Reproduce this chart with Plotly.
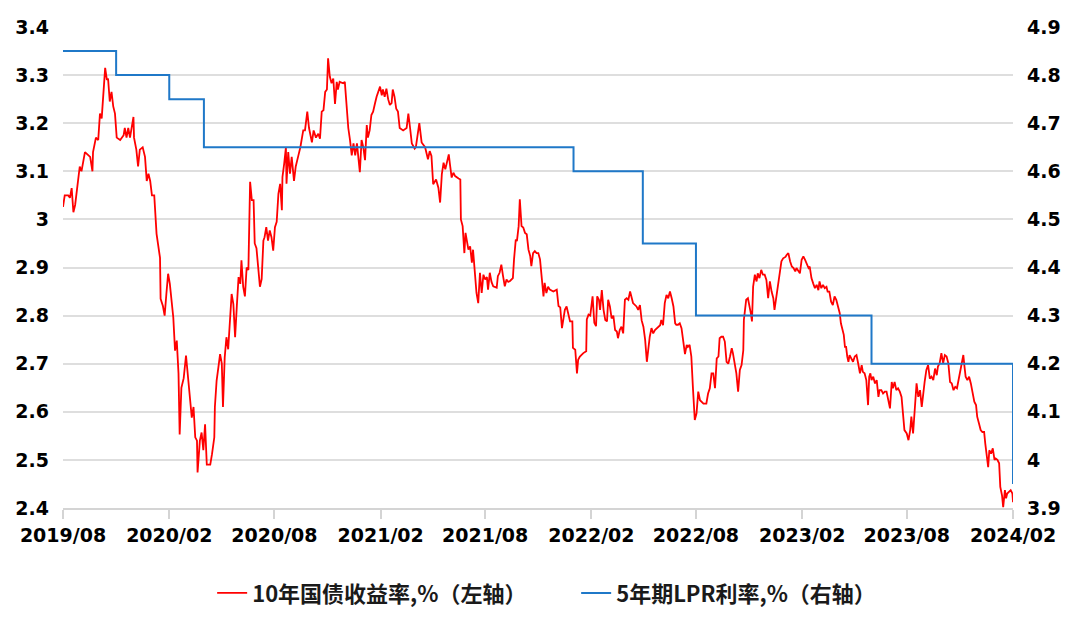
import plotly.graph_objects as go

# ---------------- data ----------------
yield_dates = [
"2019-08-01","2019-08-04","2019-08-10","2019-08-13","2019-08-16","2019-08-19","2019-08-22","2019-08-25","2019-08-30",
"2019-09-02","2019-09-08","2019-09-17","2019-09-21","2019-09-22","2019-09-27",
"2019-10-01","2019-10-04","2019-10-07","2019-10-10","2019-10-13","2019-10-16","2019-10-18","2019-10-21","2019-10-24","2019-10-27","2019-10-30",
"2019-11-02","2019-11-08","2019-11-14","2019-11-16","2019-11-19","2019-11-22","2019-11-25","2019-11-28",
"2019-12-01","2019-12-02","2019-12-06","2019-12-09","2019-12-12","2019-12-17","2019-12-21","2019-12-24","2019-12-27","2019-12-30",
"2020-01-02","2020-01-06","2020-01-08","2020-01-10","2020-01-16","2020-01-17","2020-01-21","2020-01-24","2020-01-27","2020-01-30",
"2020-02-02","2020-02-08","2020-02-11","2020-02-14","2020-02-17","2020-02-19","2020-02-22","2020-02-26",
"2020-03-01","2020-03-05","2020-03-08","2020-03-11","2020-03-14","2020-03-17","2020-03-20","2020-03-21","2020-03-25","2020-03-28","2020-03-31",
"2020-04-03","2020-04-06","2020-04-12","2020-04-15","2020-04-19","2020-04-20","2020-04-23","2020-04-26","2020-04-29",
"2020-05-02","2020-05-04","2020-05-07","2020-05-10","2020-05-13","2020-05-16","2020-05-19","2020-05-22","2020-05-25","2020-05-28","2020-05-31",
"2020-06-03","2020-06-05","2020-06-08","2020-06-11","2020-06-14","2020-06-17","2020-06-20","2020-06-23","2020-06-26","2020-06-28",
"2020-07-01","2020-07-04","2020-07-07","2020-07-10","2020-07-13","2020-07-15","2020-07-18","2020-07-21","2020-07-24","2020-07-27","2020-07-30",
"2020-08-02","2020-08-05","2020-08-08","2020-08-11","2020-08-14","2020-08-15","2020-08-18","2020-08-21","2020-08-22","2020-08-25","2020-08-28","2020-08-31",
"2020-09-04","2020-09-07","2020-09-11","2020-09-15","2020-09-20","2020-09-23","2020-09-27","2020-09-30",
"2020-10-05","2020-10-08","2020-10-12","2020-10-16","2020-10-19","2020-10-22","2020-10-25","2020-10-28","2020-10-31",
"2020-11-02","2020-11-05","2020-11-08","2020-11-11","2020-11-14","2020-11-17","2020-11-19","2020-11-22","2020-11-28",
"2020-12-01","2020-12-04","2020-12-07","2020-12-10","2020-12-13","2020-12-16","2020-12-19","2020-12-22","2020-12-24","2020-12-27","2020-12-30",
"2021-01-02","2021-01-05","2021-01-08","2021-01-10","2021-01-13","2021-01-16","2021-01-19","2021-01-22","2021-01-25","2021-01-31",
"2021-02-03","2021-02-05","2021-02-08","2021-02-11","2021-02-14","2021-02-17","2021-02-20","2021-02-22","2021-02-25","2021-02-28",
"2021-03-03","2021-03-06","2021-03-12","2021-03-18","2021-03-21","2021-03-24","2021-03-27",
"2021-04-01","2021-04-03","2021-04-09","2021-04-13","2021-04-19","2021-04-24","2021-04-27","2021-04-30",
"2021-05-03","2021-05-08","2021-05-12","2021-05-15","2021-05-18","2021-05-21","2021-05-24","2021-05-27","2021-05-30",
"2021-06-01","2021-06-04","2021-06-07","2021-06-10","2021-06-16","2021-06-19","2021-06-20","2021-06-23","2021-06-26","2021-06-28","2021-06-30",
"2021-07-03","2021-07-06","2021-07-09","2021-07-11","2021-07-14","2021-07-17","2021-07-20","2021-07-23","2021-07-26","2021-07-29",
"2021-08-01","2021-08-04","2021-08-06","2021-08-09","2021-08-12","2021-08-15","2021-08-21","2021-08-23","2021-08-26","2021-08-29",
"2021-09-01","2021-09-04","2021-09-07","2021-09-10","2021-09-13","2021-09-18","2021-09-20","2021-09-23","2021-09-25","2021-09-28","2021-09-30",
"2021-10-03","2021-10-06","2021-10-09","2021-10-12","2021-10-15","2021-10-18","2021-10-20","2021-10-23","2021-10-26","2021-10-29",
"2021-11-01","2021-11-04","2021-11-07","2021-11-10","2021-11-12","2021-11-15","2021-11-18","2021-11-21","2021-11-27",
"2021-12-03","2021-12-06","2021-12-09","2021-12-12","2021-12-14","2021-12-17","2021-12-20","2021-12-23","2021-12-26","2021-12-30","2021-12-31",
"2022-01-04","2022-01-07","2022-01-09","2022-01-12","2022-01-18","2022-01-23","2022-01-24","2022-01-27","2022-01-30",
"2022-02-03","2022-02-06","2022-02-09","2022-02-11","2022-02-14","2022-02-16","2022-02-19","2022-02-22","2022-02-25","2022-02-28",
"2022-03-02","2022-03-05","2022-03-08","2022-03-11","2022-03-14","2022-03-17","2022-03-19","2022-03-22","2022-03-25","2022-03-28","2022-03-31",
"2022-04-03","2022-04-06","2022-04-09","2022-04-12","2022-04-14","2022-04-20","2022-04-23","2022-04-26","2022-04-29",
"2022-05-02","2022-05-05","2022-05-08","2022-05-10","2022-05-13","2022-05-16","2022-05-19","2022-05-22","2022-05-25","2022-05-28","2022-05-31",
"2022-06-02","2022-06-05","2022-06-08","2022-06-11","2022-06-14","2022-06-17","2022-06-20","2022-06-23","2022-06-26","2022-06-28",
"2022-07-01","2022-07-04","2022-07-07","2022-07-10","2022-07-13","2022-07-16","2022-07-18","2022-07-21","2022-07-24","2022-07-27","2022-07-30",
"2022-08-02","2022-08-05","2022-08-08","2022-08-14","2022-08-19","2022-08-22","2022-08-25","2022-08-28","2022-08-31",
"2022-09-03","2022-09-06","2022-09-09","2022-09-11","2022-09-14","2022-09-17","2022-09-20","2022-09-23","2022-09-26","2022-09-29",
"2022-10-02","2022-10-04","2022-10-07","2022-10-10","2022-10-13","2022-10-16","2022-10-19","2022-10-22","2022-10-23","2022-10-26","2022-10-27","2022-10-30",
"2022-11-02","2022-11-04","2022-11-06","2022-11-08","2022-11-11","2022-11-14","2022-11-16","2022-11-19","2022-11-22","2022-11-25","2022-11-28",
"2022-12-01","2022-12-04","2022-12-07","2022-12-10","2022-12-13","2022-12-15","2022-12-18","2022-12-21","2022-12-24","2022-12-27","2022-12-30",
"2023-01-03","2023-01-05","2023-01-08","2023-01-11","2023-01-14","2023-01-17","2023-01-20","2023-01-22","2023-01-25","2023-01-28","2023-01-31",
"2023-02-03","2023-02-06","2023-02-09","2023-02-12","2023-02-14","2023-02-17","2023-02-20","2023-02-23","2023-02-26",
"2023-03-01","2023-03-03","2023-03-06","2023-03-09","2023-03-12","2023-03-15","2023-03-17","2023-03-20","2023-03-23","2023-03-26","2023-03-29",
"2023-04-01","2023-04-04","2023-04-07","2023-04-09","2023-04-11","2023-04-14","2023-04-16","2023-04-18","2023-04-20","2023-04-22","2023-04-24","2023-04-27","2023-04-30",
"2023-05-03","2023-05-06","2023-05-09","2023-05-12","2023-05-15","2023-05-17","2023-05-20","2023-05-23","2023-05-26","2023-05-28","2023-05-30",
"2023-06-01","2023-06-04","2023-06-07","2023-06-10","2023-06-13","2023-06-15","2023-06-18","2023-06-21","2023-06-24","2023-06-27","2023-06-30",
"2023-07-03","2023-07-06","2023-07-08","2023-07-11","2023-07-14","2023-07-17","2023-07-20","2023-07-23","2023-07-26","2023-07-28",
"2023-08-01","2023-08-04","2023-08-07","2023-08-09","2023-08-12","2023-08-15","2023-08-18","2023-08-21","2023-08-24","2023-08-27","2023-08-30",
"2023-09-01","2023-09-04","2023-09-07","2023-09-10","2023-09-13","2023-09-16","2023-09-19","2023-09-22","2023-09-24","2023-09-27","2023-09-30",
"2023-10-03","2023-10-06","2023-10-09","2023-10-12","2023-10-15","2023-10-18","2023-10-21","2023-10-24","2023-10-27","2023-10-29",
"2023-11-01","2023-11-04","2023-11-07","2023-11-09","2023-11-11","2023-11-14","2023-11-17","2023-11-20","2023-11-23","2023-11-26","2023-11-29",
"2023-12-01","2023-12-04","2023-12-07","2023-12-10","2023-12-13","2023-12-15","2023-12-17","2023-12-20","2023-12-22","2023-12-25","2023-12-28","2023-12-31",
"2024-01-02","2024-01-05","2024-01-08","2024-01-10","2024-01-13","2024-01-15","2024-01-18","2024-01-20","2024-01-22","2024-01-25","2024-01-28","2024-01-31",
"2024-02-01",
]
yield_values = [
3.026,3.05,3.05,3.045,3.065,3.015,3.03,3.06,3.11,
3.10,3.14,3.13,3.10,3.14,3.17,
3.165,3.22,3.21,3.27,3.315,3.29,3.293,3.245,3.265,3.235,3.22,
3.17,3.165,3.175,3.19,3.17,3.19,3.17,3.19,
3.213,3.17,3.145,3.11,3.145,3.15,3.13,3.08,3.095,3.08,
3.05,3.05,3.005,2.97,2.92,2.835,2.82,2.80,2.845,2.887,
2.866,2.796,2.727,2.748,2.68,2.553,2.65,2.67,
2.717,2.665,2.616,2.588,2.61,2.547,2.54,2.474,2.54,2.557,2.52,
2.574,2.49,2.49,2.512,2.547,2.61,2.665,2.692,2.72,
2.70,2.61,2.713,2.755,2.73,2.783,2.845,2.824,2.755,2.82,2.88,
2.866,2.915,2.86,2.84,2.90,2.895,3.078,3.04,3.04,2.95,
2.94,2.90,2.86,2.876,2.956,2.963,2.984,2.956,2.977,2.963,2.935,
2.984,2.995,3.053,3.074,3.019,3.088,3.116,3.15,3.074,3.14,3.095,3.13,
3.08,3.11,3.13,3.15,3.185,3.185,3.224,3.19,
3.16,3.185,3.17,3.178,3.168,3.224,3.227,3.265,3.27,
3.335,3.297,3.283,3.293,3.24,3.286,3.27,3.286,3.283,
3.286,3.227,3.19,3.165,3.133,3.158,3.133,3.158,3.126,3.098,3.165,
3.15,3.123,3.196,3.17,3.185,3.217,3.224,3.24,3.255,3.276,
3.258,3.27,3.255,3.272,3.25,3.238,3.242,3.27,3.255,3.23,
3.224,3.19,3.185,3.19,3.22,3.19,3.158,
3.147,3.15,3.20,3.16,3.15,3.125,3.142,3.132,
3.073,3.083,3.066,3.035,3.094,3.118,3.104,3.118,3.135,
3.115,3.087,3.097,3.09,3.085,3.083,3.00,2.986,2.93,2.972,2.958,
2.937,2.944,2.91,2.937,2.882,2.847,2.826,2.889,2.847,2.885,
2.875,2.88,2.854,2.889,2.87,2.861,2.858,2.882,2.889,2.906,
2.882,2.861,2.875,2.87,2.872,2.878,2.917,2.958,2.955,2.986,3.042,
2.986,2.983,2.972,2.969,2.937,2.924,2.903,2.93,2.934,2.93,
2.93,2.917,2.882,2.84,2.868,2.847,2.86,2.854,2.85,
2.854,2.82,2.817,2.774,2.792,2.812,2.819,2.80,2.788,2.788,2.733,
2.729,2.68,2.708,2.715,2.722,2.726,2.792,2.802,2.80,
2.84,2.785,2.778,2.84,2.833,2.812,2.853,2.812,2.791,2.788,
2.833,2.819,2.794,2.80,2.77,2.767,2.753,2.77,2.777,2.763,2.833,
2.836,2.833,2.85,2.833,2.826,2.819,2.812,2.822,2.79,
2.777,2.75,2.704,2.725,2.756,2.774,2.763,2.77,2.774,2.777,2.78,
2.791,2.78,2.826,2.843,2.836,2.85,2.836,2.819,2.784,2.781,
2.781,2.784,2.774,2.75,2.72,2.739,2.735,2.739,2.715,2.645,2.583,
2.597,2.642,2.624,2.617,2.617,2.638,2.649,2.68,2.68,
2.649,2.711,2.715,2.753,2.756,2.756,2.746,2.704,2.70,2.715,
2.732,2.722,2.70,2.68,2.642,2.687,2.697,2.728,2.791,2.819,2.833,2.836,
2.819,2.805,2.788,2.86,2.885,2.871,2.888,2.878,2.895,2.885,2.885,
2.874,2.836,2.871,2.85,2.836,2.812,2.84,2.867,2.895,2.913,2.919,
2.922,2.926,2.93,2.913,2.902,2.899,2.892,2.899,2.892,2.888,2.916,
2.923,2.916,2.909,2.899,2.902,2.878,2.867,2.857,2.864,
2.853,2.871,2.857,2.864,2.857,2.86,2.85,2.85,2.829,2.822,2.84,
2.833,2.819,2.805,2.784,2.774,2.76,2.735,2.735,2.715,2.704,2.718,2.711,2.704,
2.715,2.718,2.70,2.68,2.697,2.683,2.68,2.666,2.614,2.673,2.68,
2.666,2.673,2.659,2.666,2.631,2.645,2.645,2.638,2.642,2.642,2.624,
2.607,2.662,2.649,2.662,2.645,2.649,2.642,2.631,2.576,2.562,
2.555,2.541,2.562,2.59,2.555,2.60,2.659,2.631,2.645,2.61,2.645,
2.662,2.687,2.697,2.669,2.673,2.666,2.69,2.676,2.694,2.701,2.722,
2.701,2.718,2.715,2.701,2.662,2.659,2.645,2.652,2.649,2.662,
2.68,2.697,2.718,2.694,2.673,2.666,2.673,2.659,2.638,2.621,2.614,
2.59,2.576,2.562,2.558,2.558,2.534,2.517,2.485,2.52,2.513,2.524,2.50,
2.503,2.50,2.493,2.444,2.426,2.402,2.437,2.42,2.43,2.433,2.437,2.43,
2.412,
]

lpr_dates = ["2019-08-01", "2019-11-01", "2020-02-01", "2020-04-01", "2022-01-01",
             "2022-05-01", "2022-08-01", "2023-06-01", "2024-02-01"]
lpr_values = [4.85, 4.80, 4.75, 4.65, 4.60, 4.45, 4.30, 4.20, 3.95]

x_tick_dates = ["2019-08-01", "2020-02-01", "2020-08-01", "2021-02-01", "2021-08-01",
                "2022-02-01", "2022-08-01", "2023-02-01", "2023-08-01", "2024-02-01"]
x_tick_labels = ["2019/08", "2020/02", "2020/08", "2021/02", "2021/08",
                 "2022/02", "2022/08", "2023/02", "2023/08", "2024/02"]
left_ticks = [2.4, 2.5, 2.6, 2.7, 2.8, 2.9, 3.0, 3.1, 3.2, 3.3, 3.4]
left_labels = ["2.4", "2.5", "2.6", "2.7", "2.8", "2.9", "3", "3.1", "3.2", "3.3", "3.4"]
right_ticks = [3.9, 4.0, 4.1, 4.2, 4.3, 4.4, 4.5, 4.6, 4.7, 4.8, 4.9]
right_labels = ["3.9", "4", "4.1", "4.2", "4.3", "4.4", "4.5", "4.6", "4.7", "4.8", "4.9"]

name_yield = "10年国债收益率,%（左轴）"
name_lpr = "5年期LPR利率,%（右轴）"

# ---------------- figure ----------------
fig = go.Figure()
fig.add_trace(go.Scatter(x=yield_dates, y=yield_values, name=name_yield, mode="lines",
                         line=dict(color="#ff0000", width=1.8)))
fig.add_trace(go.Scatter(x=lpr_dates, y=lpr_values, name=name_lpr, mode="lines",
                         line=dict(color="#1f78c8", width=2, shape="hv"), yaxis="y2"))

tick_font = dict(family="DejaVu Sans", size=19, color="#000000", weight="bold")

fig.update_layout(
    width=1080, height=624,
    paper_bgcolor="white", plot_bgcolor="white",
    margin=dict(l=55, r=75, t=19, b=124, autoexpand=False),
    xaxis=dict(type="date", range=["2019-08-01", "2024-02-01"],
               tickvals=x_tick_dates, ticktext=x_tick_labels,
               showgrid=False, showline=True, linecolor="#d4d4d4", linewidth=1.8,
               ticks="outside", ticklen=9, tickwidth=1.8, tickcolor="#d4d4d4",
               tickfont=dict(family="DejaVu Sans", size=19, color="#000000", weight="bold"),
               zeroline=False, automargin=False),
    yaxis=dict(range=[2.4, 3.4], tickvals=left_ticks, ticktext=left_labels,
               showgrid=True, gridcolor="#dedede", gridwidth=1.8, zeroline=False,
               showline=False, ticks="", tickfont=tick_font, ticklabelstandoff=13,
               automargin=False),
    yaxis2=dict(range=[3.9, 4.9], tickvals=right_ticks, ticktext=right_labels,
                overlaying="y", side="right", showgrid=False, zeroline=False,
                showline=False, ticks="", tickfont=tick_font, ticklabelstandoff=13,
                automargin=False),
    legend=dict(orientation="h", x=0.157, xanchor="left", y=-0.177, yanchor="middle",
                entrywidth=319, entrywidthmode="pixels",
                font=dict(family="Noto Sans CJK SC", size=22, color="#1a1a1a", weight="bold"),
                bgcolor="rgba(0,0,0,0)"),
    showlegend=True,
)

fig.write_html("out.html")
